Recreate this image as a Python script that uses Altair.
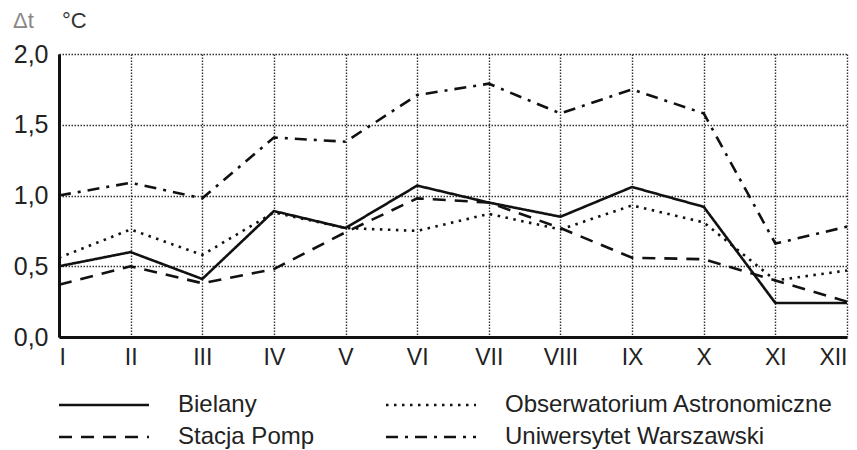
import altair as alt
import pandas as pd

months = ["I", "II", "III", "IV", "V", "VI", "VII", "VIII", "IX", "X", "XI", "XII"]
series_names = [
    "Bielany",
    "Obserwatorium Astronomiczne",
    "Stacja Pomp",
    "Uniwersytet Warszawski",
]
bielany = [0.50, 0.60, 0.41, 0.89, 0.77, 1.07, 0.95, 0.85, 1.06, 0.92, 0.24, 0.24]
obserwatorium = [0.56, 0.76, 0.58, 0.88, 0.77, 0.75, 0.87, 0.76, 0.93, 0.81, 0.40, 0.47]
stacja_pomp = [0.37, 0.50, 0.38, 0.48, 0.74, 0.98, 0.95, 0.77, 0.56, 0.55, 0.40, 0.25]
uniwersytet = [1.00, 1.09, 0.98, 1.41, 1.38, 1.71, 1.79, 1.58, 1.75, 1.58, 0.66, 0.78]
y_ticks = [0.0, 0.5, 1.0, 1.5, 2.0]

values = [bielany, obserwatorium, stacja_pomp, uniwersytet]
rows = []
for name, vals in zip(series_names, values):
    for m, v in zip(months, vals):
        rows.append({"miesiac": m, "dt": v, "stacja": name})
df = pd.DataFrame(rows)

FONT = "Liberation Sans"

dash_styles = [[1, 0], [2.5, 5.5], [13, 9], [12, 7, 3, 7]]

lines = alt.Chart(df).mark_line(color="#111", strokeWidth=2.6).encode(
    x=alt.X(
        "miesiac:N",
        sort=months,
        scale=alt.Scale(type="point", padding=0),
        axis=alt.Axis(
            title=None,
            labelAngle=0,
            labelFont=FONT,
            labelFontSize=23,
            labelColor="#222",
            labelPadding=9,
            labelFlush=True,
            ticks=False,
            grid=True,
            gridColor="#333",
            gridDash=[1.5, 1.5],
            gridWidth=1.4,
            domainColor="#111",
            domainWidth=3,
        ),
    ),
    y=alt.Y(
        "dt:Q",
        scale=alt.Scale(domain=[0, 2], nice=False),
        axis=alt.Axis(
            title=None,
            values=y_ticks,
            labelExpr="replace(format(datum.value, '.1f'), '.', ',')",
            labelFont=FONT,
            labelFontSize=25,
            labelColor="#222",
            labelPadding=11,
            ticks=False,
            grid=True,
            gridColor="#333",
            gridDash=[1.5, 1.5],
            gridWidth=1.4,
            domainColor="#111",
            domainWidth=3,
        ),
    ),
    strokeDash=alt.StrokeDash(
        "stacja:N",
        scale=alt.Scale(domain=series_names, range=dash_styles),
        legend=alt.Legend(
            title=None,
            orient="none",
            legendX=33,
            legendY=339,
            columns=2,
            direction="horizontal",
            columnPadding=65,
            rowPadding=8,
            padding=0,
            symbolType="M-4.5,0H4.5",
            symbolSize=400,
            symbolStrokeWidth=2.6,
            symbolStrokeColor="#111",
            labelFont=FONT,
            labelFontSize=24,
            labelColor="#222",
            labelOffset=62,
            labelLimit=400,
        ),
    ),
)

unit_delta = alt.Chart(pd.DataFrame({"t": ["Δt"]})).mark_text(
    font=FONT, fontSize=22, color="#888", align="left", baseline="alphabetic"
).encode(x=alt.value(-46), y=alt.value(-26), text="t:N")

unit_celsius = alt.Chart(pd.DataFrame({"t": ["°C"]})).mark_text(
    font=FONT, fontSize=22, color="#333", align="left", baseline="alphabetic"
).encode(x=alt.value(3), y=alt.value(-26), text="t:N")

chart = (
    alt.layer(lines, unit_delta, unit_celsius)
    .properties(
        width=788,
        height=283,
        autosize=alt.AutoSizeParams(type="none"),
        padding={"left": 59, "top": 54, "right": 10, "bottom": 113},
        background="white",
    )
    .configure_view(stroke=None)
)

chart.save("out.html", embed_options={"renderer": "svg", "actions": False})
